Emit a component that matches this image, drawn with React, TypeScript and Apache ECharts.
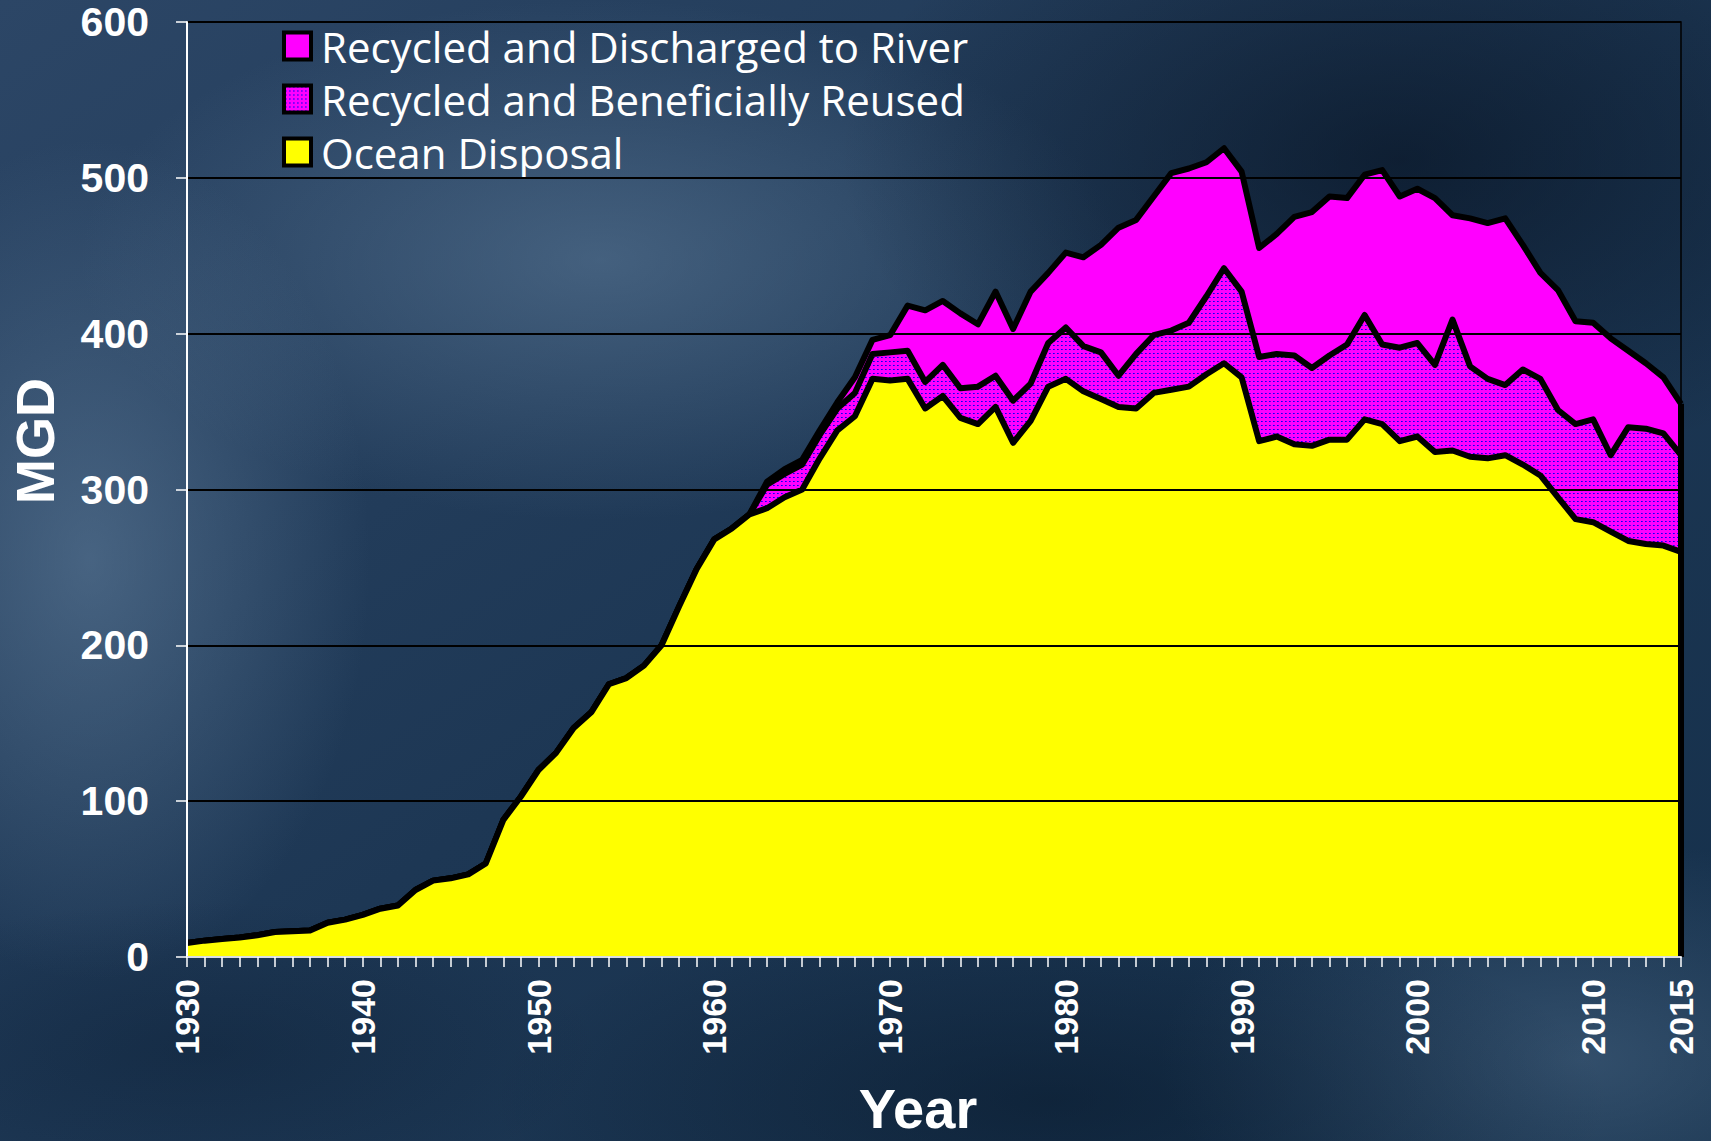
import React, { useEffect, useRef } from "react";
import * as echarts from "echarts";

// Year categories 1930..2015
const years: string[] = [];
for (let y = 1930; y <= 2015; y++) years.push(String(y));

const seriesNames = [
  "Recycled and Discharged to River",
  "Recycled and Beneficially Reused",
  "Ocean Disposal",
];

// MGD values
const oceanDisposal = [
  9, 10.5, 11.5, 12.5, 14, 16, 16.5, 17, 22, 24,
  27, 31, 33, 43, 49, 50.5, 53, 60, 88, 103,
  120, 131, 147, 157, 175, 179, 187, 200, 225, 249,
  268, 275, 284, 288, 295, 300, 320, 338, 347, 371,
  370, 371, 352, 360, 346, 342, 353, 330, 344, 366,
  371, 363, 358, 353, 352, 362, 364, 366, 374, 381,
  372, 331, 334, 329, 328, 332, 332, 345, 342, 331,
  334, 324, 325, 321, 320, 322, 316, 309, 295, 281,
  279, 273, 267, 265, 264, 260,
];

const beneficialReuse = [
  0, 0, 0, 0, 0, 0, 0, 0, 0, 0,
  0, 0, 0, 0, 0, 0, 0, 0, 0, 0,
  0, 0, 0, 0, 0, 0, 0, 0, 0, 0,
  0, 0, 0, 15, 15, 16, 15, 14, 15, 16,
  18, 18, 17, 20, 19, 24, 20, 27, 24, 28,
  33, 29, 30, 20, 35, 37, 38, 41, 50, 61,
  55, 54, 53, 57, 50, 54, 61, 67, 51, 60,
  60, 56, 84, 58, 51, 45, 61, 62, 56, 61,
  66, 49, 73, 74, 72, 62,
];

const dischargedToRiver = [
  0, 0, 0, 0, 0, 0, 0, 0, 0, 0,
  0, 0, 0, 0, 0, 0, 0, 0, 0, 0,
  0, 0, 0, 0, 0, 0, 0, 0, 0, 0,
  0, 0, 0, 2, 3, 3, 3, 4, 10, 9,
  11, 29, 46, 41, 48, 40, 54, 46, 59, 45,
  48, 57, 69, 95, 86, 89, 101, 99, 86, 77,
  77, 70, 77, 89, 100, 102, 94, 90, 112, 97,
  99, 107, 67, 95, 100, 107, 80, 68, 77, 66,
  62, 75, 49, 42, 36, 33,
];

const yTicks = { min: 0, max: 600, interval: 100 };

function makeDotPattern() {
  const c = document.createElement("canvas");
  c.width = 4;
  c.height = 4;
  const ctx = c.getContext("2d")!;
  ctx.fillStyle = "#FF00FF";
  ctx.fillRect(0, 0, 4, 4);
  ctx.fillStyle = "#0000FF";
  ctx.fillRect(1, 1, 1, 1);
  ctx.fillStyle = "#5a00e6";
  ctx.fillRect(2, 1, 1, 1);
  return { image: c.toDataURL(), repeat: "repeat", imageWidth: 4, imageHeight: 4 } as any;
}

function radial(color: string) {
  return {
    type: "radial",
    x: 0.5,
    y: 0.5,
    r: 0.5,
    colorStops: [
      { offset: 0, color },
      { offset: 1, color: color.replace(/[\d.]+\)$/, "0)") },
    ],
  } as any;
}

export default function App() {
  const ref = useRef<HTMLDivElement>(null);

  useEffect(() => {
    document.body.style.margin = "0";
    if (!ref.current) return;
    const chart = echarts.init(ref.current, undefined, { renderer: "svg" });
    const dots = makeDotPattern();
    const last = years.length - 1;
    const total = oceanDisposal[last] + beneficialReuse[last] + dischargedToRiver[last];
    const axisFont = "'Liberation Sans', Arial, sans-serif";

    const bgBlobs = [
      { cx: 600, cy: 260, rx: 520, ry: 260, c: "rgba(95,125,155,0.55)" },
      { cx: 90, cy: 560, rx: 280, ry: 420, c: "rgba(100,130,160,0.55)" },
      { cx: 1580, cy: 1060, rx: 420, ry: 220, c: "rgba(85,115,145,0.45)" },
      { cx: 1400, cy: 160, rx: 560, ry: 320, c: "rgba(4,14,28,0.6)" },
      { cx: 1050, cy: 1100, rx: 560, ry: 200, c: "rgba(4,18,34,0.45)" },
      { cx: 200, cy: 1050, rx: 400, ry: 150, c: "rgba(8,25,45,0.35)" },
    ];

    const option: any = {
      animation: false,
      backgroundColor: {
        type: "linear",
        x: 0,
        y: 0,
        x2: 1,
        y2: 1,
        colorStops: [
          { offset: 0, color: "#2c4666" },
          { offset: 0.5, color: "#1d3754" },
          { offset: 1, color: "#15304b" },
        ],
      },
      graphic: {
        elements: [
          ...bgBlobs.map((b) => ({
            type: "ellipse",
            silent: true,
            z: -10,
            shape: { cx: b.cx, cy: b.cy, rx: b.rx, ry: b.ry },
            style: { fill: radial(b.c) },
          })),
          {
            type: "text",
            x: 35,
            y: 441,
            rotation: Math.PI / 2,
            z: 10,
            style: {
              text: "MGD",
              fill: "#ffffff",
              font: `bold 54px ${axisFont}`,
              textAlign: "center",
              textVerticalAlign: "middle",
            },
          },
          {
            type: "text",
            x: 918,
            y: 1108,
            z: 10,
            style: {
              text: "Year",
              fill: "#ffffff",
              font: `bold 56px ${axisFont}`,
              textAlign: "center",
              textVerticalAlign: "middle",
            },
          },
        ],
      },
      grid: {
        left: 187,
        right: 30,
        top: 22,
        bottom: 184,
        show: true,
        borderColor: "#000000",
        borderWidth: 1.5,
        backgroundColor: "transparent",
      },
      legend: {
        orient: "vertical",
        left: 277,
        top: 20,
        icon: "rect",
        itemWidth: 27,
        itemHeight: 27,
        itemGap: 11,
        selectedMode: false,
        textStyle: {
          color: "#ffffff",
          fontSize: 42,
          fontFamily: "'Open Sans', sans-serif",
          padding: [0, 0, 0, 5],
        },
        data: [
          { name: seriesNames[0], itemStyle: { color: "#FF00FF", borderColor: "#000", borderWidth: 4 } },
          { name: seriesNames[1], itemStyle: { color: dots, borderColor: "#000", borderWidth: 4 } },
          { name: seriesNames[2], itemStyle: { color: "#FFFF00", borderColor: "#000", borderWidth: 4 } },
        ],
      },
      xAxis: {
        type: "category",
        data: years,
        boundaryGap: false,
        z: 10,
        axisLine: { show: true, lineStyle: { color: "#d9dde3", width: 2 } },
        axisTick: { show: true, interval: 0, length: 10, lineStyle: { color: "#ffffff", width: 1.5 } },
        axisLabel: {
          interval: (_i: number, v: string) => Number(v) % 10 === 0 || v === "2015",
          rotate: 90,
          margin: 22,
          color: "#ffffff",
          fontSize: 34,
          fontWeight: "bold",
          fontFamily: axisFont,
        },
        splitLine: { show: false },
      },
      yAxis: {
        type: "value",
        min: yTicks.min,
        max: yTicks.max,
        interval: yTicks.interval,
        z: 10,
        axisLine: { show: true, lineStyle: { color: "#ffffff", width: 2 } },
        axisTick: { show: true, length: 11, lineStyle: { color: "#ffffff", width: 1.5 } },
        axisLabel: {
          margin: 38,
          color: "#ffffff",
          fontSize: 41,
          fontWeight: "bold",
          fontFamily: axisFont,
        },
        splitLine: { show: true, lineStyle: { color: "#000000", width: 2 } },
      },
      series: [
        {
          name: seriesNames[2],
          type: "line",
          stack: "total",
          data: oceanDisposal,
          z: 4,
          showSymbol: false,
          symbol: "none",
          itemStyle: { color: "#FFFF00" },
          lineStyle: { color: "#000000", width: 6, join: "round" },
          areaStyle: { color: "#FFFF00", opacity: 1 },
          markLine: {
            silent: true,
            symbol: ["none", "none"],
            label: { show: false },
            lineStyle: { color: "#000000", width: 6, type: "solid" },
            data: [[{ coord: [years[last], 0] }, { coord: [years[last], total] }]],
          },
        },
        {
          name: seriesNames[1],
          type: "line",
          stack: "total",
          data: beneficialReuse,
          z: 3,
          showSymbol: false,
          symbol: "none",
          itemStyle: { color: "#FF00FF" },
          lineStyle: { color: "#000000", width: 6, join: "round" },
          areaStyle: { color: dots, opacity: 1 },
        },
        {
          name: seriesNames[0],
          type: "line",
          stack: "total",
          data: dischargedToRiver,
          z: 2,
          showSymbol: false,
          symbol: "none",
          itemStyle: { color: "#FF00FF" },
          lineStyle: { color: "#000000", width: 6, join: "round" },
          areaStyle: { color: "#FF00FF", opacity: 1 },
        },
      ],
    };

    chart.setOption(option);
    return () => chart.dispose();
  }, []);

  return <div ref={ref} style={{ width: 1711, height: 1141 }} />;
}
